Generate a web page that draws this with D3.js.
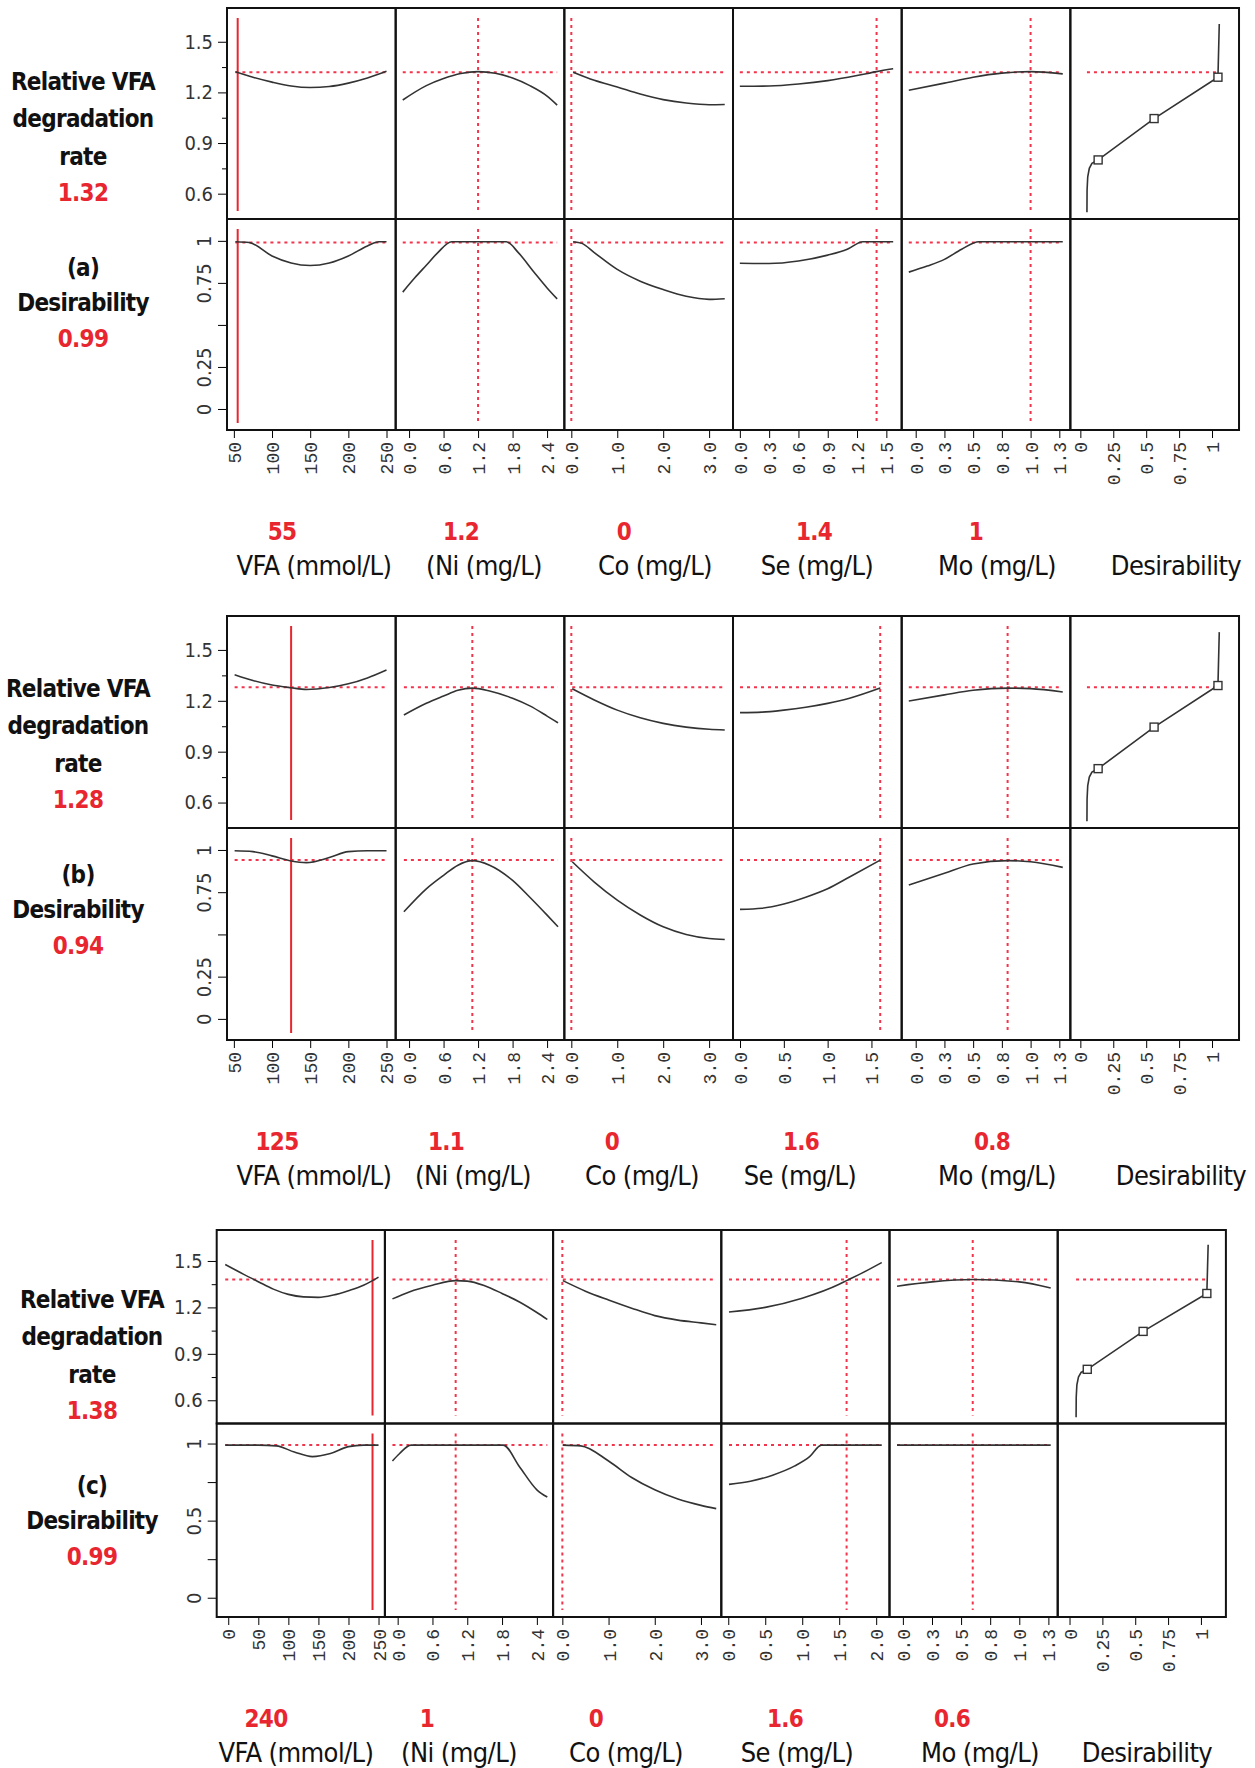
<!DOCTYPE html>
<html lang="en">
<head>
<meta charset="UTF-8">
<title>Prediction profiler</title>
<script src="https://d3js.org/d3.v7.min.js"></script>
<style>
  body { margin: 0; background: #fff; }
  svg text { font-family: "Liberation Sans Narrow", "DejaVu Sans Condensed", "Liberation Sans", sans-serif; }
  .xtick text { font-family: "Liberation Mono", "DejaVu Sans Mono", monospace; }
</style>
</head>
<body>
<div id="chart"></div>
<script>

// ---- data ----
var factorNames = ["VFA (mmol/L)", "(Ni (mg/L)", "Co (mg/L)", "Se (mg/L)", "Mo (mg/L)", "Desirability"];
var panelTags = ["(a)", "(b)", "(c)"];
var responseValues = [1.32, 1.28, 1.38];
var desirabilityValues = [0.99, 0.94, 0.99];
var factorSettings = [[55, 1.2, 0, 1.4, 1], [125, 1.1, 0, 1.6, 0.8], [240, 1, 0, 1.6, 0.6]];
var factorSettingLabels = [["55", "1.2", "0", "1.4", "1"], ["125", "1.1", "0", "1.6", "0.8"], ["240", "1", "0", "1.6", "0.6"]];

// x range of each column (per panel)
var xDomains = [
  [[41, 262], [-0.233, 2.70], [-0.152, 3.52], [-0.07, 1.657], [-0.122, 1.346], [-0.076, 1.205]],
  [[41, 262], [-0.233, 2.70], [-0.152, 3.52], [-0.08, 1.845], [-0.122, 1.346], [-0.076, 1.205]],
  [[-19.2, 260.6], [-0.22, 2.68], [-0.2, 3.44], [-0.094, 2.18], [-0.115, 1.33], [-0.09, 1.19]]
];
var xTicks = [
  [[50, 100, 150, 200, 250], [0, 0.6, 1.2, 1.8, 2.4], [0, 1, 2, 3], [0, 0.3, 0.6, 0.9, 1.2, 1.5], [0, 0.25, 0.5, 0.75, 1, 1.25], [0, 0.25, 0.5, 0.75, 1]],
  [[50, 100, 150, 200, 250], [0, 0.6, 1.2, 1.8, 2.4], [0, 1, 2, 3], [0, 0.5, 1, 1.5], [0, 0.25, 0.5, 0.75, 1, 1.25], [0, 0.25, 0.5, 0.75, 1]],
  [[0, 50, 100, 150, 200, 250], [0, 0.6, 1.2, 1.8, 2.4], [0, 1, 2, 3], [0, 0.5, 1, 1.5, 2], [0, 0.25, 0.5, 0.75, 1, 1.25], [0, 0.25, 0.5, 0.75, 1]]
];
var xTickLabels = [
  [["50", "100", "150", "200", "250"], ["0.0", "0.6", "1.2", "1.8", "2.4"], ["0.0", "1.0", "2.0", "3.0"], ["0.0", "0.3", "0.6", "0.9", "1.2", "1.5"], ["0.0", "0.3", "0.5", "0.8", "1.0", "1.3"], ["0", "0.25", "0.5", "0.75", "1"]],
  [["50", "100", "150", "200", "250"], ["0.0", "0.6", "1.2", "1.8", "2.4"], ["0.0", "1.0", "2.0", "3.0"], ["0.0", "0.5", "1.0", "1.5"], ["0.0", "0.3", "0.5", "0.8", "1.0", "1.3"], ["0", "0.25", "0.5", "0.75", "1"]],
  [["0", "50", "100", "150", "200", "250"], ["0.0", "0.6", "1.2", "1.8", "2.4"], ["0.0", "1.0", "2.0", "3.0"], ["0.0", "0.5", "1.0", "1.5", "2.0"], ["0.0", "0.3", "0.5", "0.8", "1.0", "1.3"], ["0", "0.25", "0.5", "0.75", "1"]]
];

// y axes
var yTopDomain = [0.45, 1.70];
var yTopTicks = [0.6, 0.9, 1.2, 1.5];
var yTopMinor = [0.75, 1.05, 1.35];
var yBotDomain = [-0.125, 1.13];
var yBotTicks = [0, 0.25, 0.5, 0.75, 1];
var yBotLabels = [["0", "0.25", "", "0.75", "1"], ["0", "0.25", "", "0.75", "1"], ["0", "", "0.5", "", "1"]];

// profile traces: [factor, relative VFA degradation rate]
var rateCurves = [
  [
    [[52, 1.322], [75, 1.29], [100, 1.261], [125, 1.238], [150, 1.229], [175, 1.235], [200, 1.255], [225, 1.285], [250, 1.325]],
    [[-0.11, 1.155], [0.3, 1.24], [0.6, 1.282], [0.9, 1.312], [1.2, 1.323], [1.5, 1.313], [1.8, 1.285], [2.1, 1.24], [2.4, 1.178], [2.575, 1.125]],
    [[0.04, 1.32], [0.5, 1.272], [1.0, 1.232], [1.5, 1.19], [2.0, 1.157], [2.5, 1.137], [3.0, 1.127], [3.34, 1.128]],
    [[0, 1.236], [0.3, 1.238], [0.6, 1.25], [0.9, 1.27], [1.2, 1.30], [1.4, 1.323], [1.57, 1.34]],
    [[-0.06, 1.213], [0.25, 1.255], [0.5, 1.29], [0.75, 1.314], [1.0, 1.323], [1.28, 1.31]]
  ],
  [
    [[51, 1.354], [75, 1.32], [100, 1.293], [125, 1.277], [145, 1.267], [175, 1.278], [200, 1.30], [225, 1.335], [250, 1.382]],
    [[-0.09, 1.116], [0.3, 1.185], [0.6, 1.228], [0.85, 1.262], [1.1, 1.275], [1.4, 1.258], [1.8, 1.215], [2.1, 1.17], [2.4, 1.11], [2.59, 1.07]],
    [[0.02, 1.271], [0.5, 1.205], [1.0, 1.145], [1.5, 1.1], [2.0, 1.067], [2.5, 1.045], [3.0, 1.032], [3.34, 1.028]],
    [[0, 1.13], [0.25, 1.133], [0.5, 1.145], [0.75, 1.162], [1.0, 1.185], [1.25, 1.215], [1.6, 1.275]],
    [[-0.06, 1.199], [0.25, 1.235], [0.5, 1.262], [0.8, 1.275], [1.0, 1.272], [1.28, 1.252]]
  ],
  [
    [[-5, 1.477], [25, 1.415], [50, 1.366], [75, 1.318], [100, 1.284], [125, 1.268], [150, 1.265], [175, 1.28], [200, 1.308], [225, 1.343], [240, 1.373], [250, 1.396]],
    [[-0.09, 1.255], [0.2, 1.30], [0.6, 1.343], [1.0, 1.373], [1.2, 1.37], [1.5, 1.34], [1.8, 1.29], [2.1, 1.235], [2.4, 1.167], [2.58, 1.122]],
    [[0.01, 1.373], [0.5, 1.305], [1.0, 1.248], [1.5, 1.195], [2.0, 1.147], [2.5, 1.118], [3.0, 1.10], [3.33, 1.088]],
    [[0.01, 1.17], [0.5, 1.20], [1.0, 1.259], [1.5, 1.349], [1.6, 1.373], [1.8, 1.42], [2.075, 1.49]],
    [[-0.05, 1.337], [0.25, 1.365], [0.6, 1.38], [1.0, 1.365], [1.27, 1.325]]
  ]
];

// profile traces: [factor, desirability]
var desCurves = [
  [
    [[52, 0.995], [70, 0.99], [100, 0.91], [125, 0.868], [150, 0.853], [175, 0.868], [200, 0.91], [225, 0.97], [240, 0.995], [250, 0.995]],
    [[-0.11, 0.695], [0.1, 0.78], [0.3, 0.855], [0.5, 0.93], [0.74, 0.995], [1.0, 0.995], [1.4, 0.995], [1.69, 0.995], [1.9, 0.93], [2.17, 0.815], [2.4, 0.72], [2.575, 0.655]],
    [[0.04, 0.995], [0.23, 0.985], [0.5, 0.93], [1.0, 0.83], [1.5, 0.76], [2.0, 0.71], [2.5, 0.67], [3.0, 0.652], [3.34, 0.656]],
    [[0, 0.867], [0.3, 0.865], [0.6, 0.88], [0.9, 0.915], [1.1, 0.95], [1.26, 0.995], [1.4, 0.995], [1.57, 0.995]],
    [[-0.06, 0.814], [0.1, 0.85], [0.25, 0.89], [0.4, 0.95], [0.55, 0.995], [0.8, 0.995], [1.0, 0.995], [1.28, 0.995]]
  ],
  [
    [[51, 0.995], [75, 0.99], [100, 0.965], [125, 0.935], [145, 0.925], [175, 0.955], [200, 0.99], [225, 0.995], [250, 0.995]],
    [[-0.09, 0.634], [0.3, 0.77], [0.6, 0.85], [0.85, 0.91], [1.1, 0.937], [1.4, 0.91], [1.8, 0.82], [2.1, 0.72], [2.4, 0.614], [2.59, 0.545]],
    [[0.02, 0.93], [0.5, 0.81], [1.0, 0.703], [1.5, 0.615], [2.0, 0.545], [2.5, 0.5], [3.0, 0.476], [3.34, 0.47]],
    [[0, 0.648], [0.25, 0.655], [0.5, 0.68], [0.75, 0.72], [1.0, 0.77], [1.25, 0.84], [1.6, 0.94]],
    [[-0.06, 0.792], [0.25, 0.862], [0.5, 0.917], [0.8, 0.937], [1.0, 0.93], [1.28, 0.897]]
  ],
  [
    [[-5, 0.99], [50, 0.99], [80, 0.985], [110, 0.945], [140, 0.915], [170, 0.935], [200, 0.98], [225, 0.99], [250, 0.99]],
    [[-0.09, 0.887], [0.03, 0.934], [0.23, 0.99], [1.0, 0.99], [1.82, 0.99], [2.1, 0.85], [2.4, 0.70], [2.58, 0.653]],
    [[0.01, 0.99], [0.4, 0.985], [1.0, 0.887], [1.5, 0.78], [2.0, 0.70], [2.5, 0.64], [3.0, 0.599], [3.33, 0.578]],
    [[0.01, 0.735], [0.3, 0.755], [0.6, 0.795], [0.9, 0.855], [1.1, 0.915], [1.26, 0.99], [1.6, 0.99], [2.075, 0.99]],
    [[-0.05, 0.99], [1.27, 0.99]]
  ]
];

// desirability function: [desirability, relative VFA degradation rate]
var desFunction = [[0.05, 0.49], [0.051, 0.62], [0.056, 0.70], [0.068, 0.75], [0.088, 0.78], [0.135, 0.80], [0.56, 1.045], [1.045, 1.29], [1.055, 1.605]];
var desMarkers = [[0.135, 0.80], [0.56, 1.045], [1.045, 1.29]];

// ---- layout ----
var panelLayout = [
  {top: 8, left: 227, colW: 168.67, rowH: 211, tagX: 83, tagShift: 1},
  {top: 616, left: 227, colW: 168.67, rowH: 212, tagX: 78, tagShift: 0},
  {top: 1230, left: 216.7, colW: 168.2, rowH: 193.5, tagX: 92, tagShift: -3}
];
var rowLabelBase = [81, 118, 156, 192, 267, 302, 338];
var nameX = [[314, 484, 655, 817, 997, 1176], [314, 473, 642, 800, 997, 1181], [296, 459, 626, 797, 980, 1147]];
var valueX = [[282, 461, 624, 814, 976], [277, 446, 612, 801, 992], [266, 427, 596, 785, 952]];

var red = "#e8262f", redDot = "#f2344c", ink = "#333";

var svg = d3.select("#chart")
  .append("svg")
    .attr("width", 1255)
    .attr("height", 1768);

panelLayout.forEach(function(L, pi) {
  var g = svg.append("g").attr("transform", "translate(" + L.left + "," + L.top + ")");
  var H = L.rowH;

  var yTop = d3.scaleLinear().domain(yTopDomain).range([H, 0]);
  var yBot = d3.scaleLinear().domain(yBotDomain).range([2 * H, H]);

  // left y axes
  var ya = g.append("g").call(d3.axisLeft(yTop).tickValues(yTopTicks).tickSize(9).tickPadding(5).tickFormat(d3.format(".1f")));
  ya.select(".domain").remove();
  ya.selectAll("text").style("font-size", "20px").attr("fill", ink);
  var ym = g.append("g").call(d3.axisLeft(yTop).tickValues(yTopMinor).tickSize(5).tickFormat(""));
  ym.select(".domain").remove();

  var yb = g.append("g").call(d3.axisLeft(yBot).tickValues(yBotTicks).tickSize(9)
    .tickFormat(function(d, i) { return yBotLabels[pi][i]; }));
  yb.select(".domain").remove();
  yb.selectAll("text")
    .attr("transform", "rotate(-90)")
    .attr("x", 0).attr("y", -16).attr("dy", 0)
    .attr("text-anchor", "middle")
    .style("font-size", "20px").attr("fill", ink);

  for (var ci = 0; ci < 6; ci++) {
    var cg = g.append("g").attr("transform", "translate(" + (ci * L.colW) + ",0)");
    var x = d3.scaleLinear().domain(xDomains[pi][ci]).range([0, L.colW]);

    // x axis
    var xa = cg.append("g").attr("class", "xtick")
      .attr("transform", "translate(0," + (2 * H) + ")")
      .call(d3.axisBottom(x).tickValues(xTicks[pi][ci]).tickSize(8)
        .tickFormat(function(d, i) { return xTickLabels[pi][this.ci][i]; }.bind({ci: ci})));
    xa.select(".domain").remove();
    xa.selectAll("text")
      .attr("transform", "rotate(-90)")
      .attr("x", -12).attr("y", 0).attr("dy", "0.36em")
      .attr("text-anchor", "end")
      .style("font-size", "18px").attr("fill", ink);

    var lineFn = d3.line().x(function(d) { return x(d[0]); });

    if (ci < 5) {
      var rc = rateCurves[pi][ci], dc = desCurves[pi][ci];
      var ext = d3.extent(rc, function(d) { return d[0]; });
      var v = factorSettings[pi][ci];

      // reference lines
      cg.append("line")
        .attr("x1", x(ext[0])).attr("x2", x(ext[1]))
        .attr("y1", yTop(responseValues[pi])).attr("y2", yTop(responseValues[pi]))
        .attr("stroke", redDot).attr("stroke-width", 2).attr("stroke-dasharray", "3,4");
      cg.append("line")
        .attr("x1", x(ext[0])).attr("x2", x(ext[1]))
        .attr("y1", yBot(desirabilityValues[pi])).attr("y2", yBot(desirabilityValues[pi]))
        .attr("stroke", redDot).attr("stroke-width", 2).attr("stroke-dasharray", "3,4");

      [[10, H - 8], [H + 10, 2 * H - 7]].forEach(function(r) {
        cg.append("line")
          .attr("x1", x(v)).attr("x2", x(v))
          .attr("y1", r[0]).attr("y2", r[1])
          .attr("stroke", ci === 0 ? red : redDot)
          .attr("stroke-width", 2)
          .attr("stroke-dasharray", ci === 0 ? null : "3,4");
      });

      cg.append("path")
        .attr("d", lineFn.y(function(d) { return yTop(d[1]); }).curve(d3.curveMonotoneX)(rc))
        .attr("fill", "none").attr("stroke", ink).attr("stroke-width", 1.6);
      cg.append("path")
        .attr("d", lineFn.y(function(d) { return yBot(d[1]); }).curve(d3.curveMonotoneX)(dc))
        .attr("fill", "none").attr("stroke", ink).attr("stroke-width", 1.6);
    } else {
      // desirability function
      cg.append("line")
        .attr("x1", x(desFunction[0][0])).attr("x2", x(desMarkers[2][0]))
        .attr("y1", yTop(responseValues[pi])).attr("y2", yTop(responseValues[pi]))
        .attr("stroke", redDot).attr("stroke-width", 2).attr("stroke-dasharray", "3,4");
      cg.append("path")
        .attr("d", lineFn.y(function(d) { return yTop(d[1]); }).curve(d3.curveLinear)(desFunction))
        .attr("fill", "none").attr("stroke", ink).attr("stroke-width", 1.6);
      cg.selectAll("rect.mk").data(desMarkers).enter().append("rect")
        .attr("class", "mk")
        .attr("x", function(d) { return x(d[0]) - 4; })
        .attr("y", function(d) { return yTop(d[1]) - 4; })
        .attr("width", 8).attr("height", 8)
        .attr("fill", "#fff").attr("stroke", ink).attr("stroke-width", 1.4);
    }

    // cell frames
    cg.append("rect").attr("x", 0).attr("y", 0).attr("width", L.colW).attr("height", H)
      .attr("fill", "none").attr("stroke", "#111").attr("stroke-width", 2);
    cg.append("rect").attr("x", 0).attr("y", H).attr("width", L.colW).attr("height", H)
      .attr("fill", "none").attr("stroke", "#111").attr("stroke-width", 2);
  }

  // row labels on the left
  var rowText = ["Relative VFA", "degradation", "rate", responseValues[pi].toFixed(2),
                 panelTags[pi], "Desirability", desirabilityValues[pi].toFixed(2)];
  rowText.forEach(function(t, i) {
    svg.append("text")
      .attr("x", L.tagX)
      .attr("y", L.top + rowLabelBase[i] + L.tagShift)
      .attr("text-anchor", "middle")
      .style("font-size", "24px")
      .style("font-weight", "bold")
      .style("letter-spacing", "-0.7px")
      .attr("fill", (i === 3 || i === 6) ? red : "#111")
      .text(t);
  });

  // factor settings and names under the panel
  var bottom = L.top + 2 * H;
  factorSettingLabels[pi].forEach(function(t, i) {
    svg.append("text")
      .attr("x", valueX[pi][i]).attr("y", bottom + 110)
      .attr("text-anchor", "middle")
      .style("font-size", "24px").style("font-weight", "bold")
      .style("letter-spacing", "-0.7px")
      .attr("fill", red)
      .text(t);
  });
  factorNames.forEach(function(t, i) {
    svg.append("text")
      .attr("x", nameX[pi][i]).attr("y", bottom + 145)
      .attr("text-anchor", "middle")
      .style("font-size", "27px")
      .style("letter-spacing", "-0.6px")
      .attr("fill", "#111")
      .text(t);
  });
});

</script>
</body>
</html>
